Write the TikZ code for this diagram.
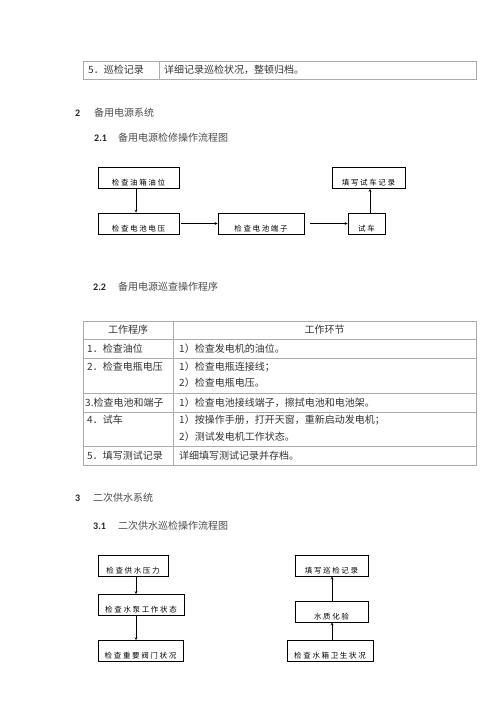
\documentclass[tikz,border=0pt]{standalone}
\usepackage{fontspec}
\setmainfont{Carlito}
\newfontfamily\cjk{Noto Sans CJK SC}
\newfontfamily\cjkbox[LetterSpace=22]{Noto Sans CJK SC}
\begin{document}
\begin{tikzpicture}[>=stealth,x=1pt,y=-1pt,
	flow/.style={draw,line width=0.6pt,inner xsep=0pt,inner ysep=3pt,text height=15pt,text depth=0pt,font=\cjkbox\fontsize{7.5}{8}\selectfont},
	cell/.style={anchor=west,inner sep=0pt,font=\cjk\fontsize{10}{12}\selectfont,text=black!80},
	head/.style={anchor=west,inner sep=0pt,font=\cjk\fontsize{10}{12}\selectfont,text=black!70},
	num/.style={anchor=west,inner sep=0pt,font=\bfseries\fontsize{10}{12}\selectfont,text=black!85},
	rule/.style={draw=gray!65,line width=0.8pt}]
	\useasboundingbox[fill=white] (0,0) rectangle (500,707);
	% first table
	\draw[rule] (83,61) rectangle (476,79);
	\draw[rule] (159,61) -- (159,79);
	\node[cell] (r0a) at (88,70) {5．巡检记录};
	\node[cell] (r0b) at (164,70) {详细记录巡检状况，整顿归档。};
	% headings
	\node[num] (h2) at (75,113) {2};
	\node[head] (h2t) at (94,113) {备用电源系统};
	\node[num] (h21) at (94,138) {2.1};
	\node[head] (h21t) at (118,138) {备用电源检修操作流程图};
	% flow 1
	\node[flow,minimum width=81pt] (oil) at (138.5,177.5) {检查油箱油位};
	\node[flow,minimum width=81pt] (volt) at (138.5,223.5) {检查电池电压};
	\node[flow,minimum width=86pt] (term) at (261,223.5) {检查电池端子};
	\node[flow,minimum width=37pt] (run) at (366.5,223.5) {试车};
	\node[flow,minimum width=73pt] (log) at (368.5,178) {填写试车记录};
	\draw[->] (oil.south -| 136,0) -- (volt.north -| 136,0);
	\draw[->] (volt.east) ++(2,0) -- (term.west);
	\draw[->] (term.east) ++(6,0) -- (run.west);
	\draw[->] (run.north -| 370,0) -- (log.south -| 370,0);
	% second table
	\node[num] (h22) at (93,287) {2.2};
	\node[head] (h22t) at (118,287) {备用电源巡查操作程序};
	\draw[rule] (83,321) rectangle (476,465);
	\draw[rule] (173,321) -- (173,465);
	\foreach \y in {339,358,393,412,446}
		\draw[rule] (83,\y) -- (476,\y);
	\node[cell,anchor=center] (hd1) at (128,330) {工作程序};
	\node[cell,anchor=center] (hd2) at (324.5,330) {工作环节};
	\node[cell] (s1) at (87,349) {1．检查油位};
	\node[cell] (d1) at (179,349) {1）检查发电机的油位。};
	\node[cell] (s2) at (87,367) {2．检查电瓶电压};
	\node[cell] (d2a) at (179,367) {1）检查电瓶连接线；};
	\node[cell] (d2b) at (179,383) {2）检查电瓶电压。};
	\node[cell] (s3) at (85,403) {3.检查电池和端子};
	\node[cell] (d3) at (179,403) {1）检查电池接线端子，擦拭电池和电池架。};
	\node[cell] (s4) at (87,420) {4．试车};
	\node[cell] (d4a) at (179,420) {1）按操作手册，打开天窗，重新启动发电机；};
	\node[cell] (d4b) at (179,437) {2）测试发电机工作状态。};
	\node[cell] (s5) at (87,456) {5．填写测试记录};
	\node[cell] (d5) at (179,456) {详细填写测试记录并存档。};
	% headings
	\node[num] (h3) at (75,498) {3};
	\node[head] (h3t) at (93,498) {二次供水系统};
	\node[num] (h31) at (93,526) {3.1};
	\node[head] (h31t) at (118,526) {二次供水巡检操作流程图};
	% flow 2
	\node[flow,minimum width=70pt] (press) at (133,566) {检查供水压力};
	\node[flow,minimum width=86pt] (pump) at (141,605) {检查水泵工作状态};
	\node[flow,minimum width=85pt] (valve) at (140.5,651) {检查重要阀门状况};
	\node[flow,minimum width=73pt] (rec) at (331.5,565.5) {填写巡检记录};
	\node[flow,minimum width=73pt] (test) at (331.5,611.5) {水质化验};
	\node[flow,minimum width=86pt] (tank) at (330,651) {检查水箱卫生状况};
	\draw[->] (press.south -| 136,0) -- (pump.north -| 136,0);
	\draw[->] (pump.south -| 136,0) -- (valve.north -| 136,0);
	\draw[->] (tank.north -| 332,0) -- (test.south -| 332,0);
	\draw[->] (test.north -| 332,0) -- (rec.south -| 332,0);
\end{tikzpicture}
\end{document}
